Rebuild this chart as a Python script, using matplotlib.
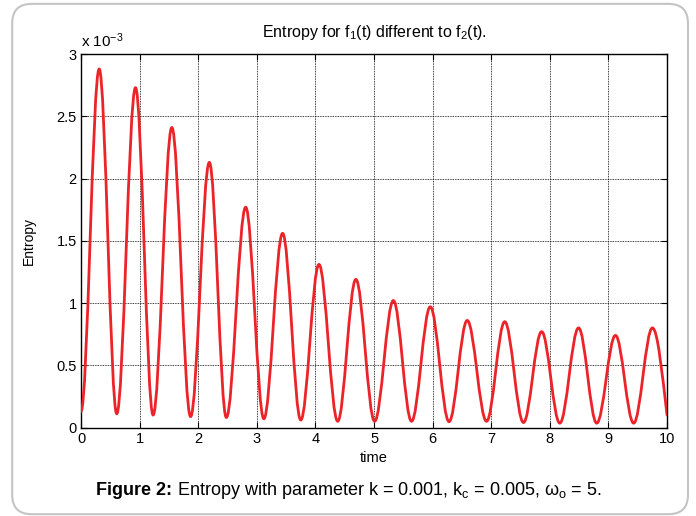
import matplotlib
matplotlib.use("Agg")
import matplotlib.pyplot as plt
from matplotlib.path import Path
from matplotlib.patches import PathPatch, FancyBboxPatch

plt.rcParams.update({
    "font.family": ["Liberation Sans", "DejaVu Sans"],
    "mathtext.fontset": "custom",
    "mathtext.rm": "Liberation Sans",
    "mathtext.it": "Liberation Sans",
    "mathtext.bf": "Liberation Sans:bold",
})

# ── data (entropy in units of 1e-3) ─────────────────────────────────────────
start_t, start_v = 0.0, 0.13
end_t, end_v = 10.0, 0.10
peak_t = [0.31, 0.93, 1.55, 2.19, 2.81, 3.44, 4.06, 4.69,
          5.33, 5.96, 6.59, 7.23, 7.86, 8.49, 9.12, 9.75]
peak_v = [2.88, 2.73, 2.41, 2.13, 1.77, 1.56, 1.31, 1.19,
          1.02, 0.97, 0.86, 0.85, 0.77, 0.80, 0.74, 0.80]
trough_t = [0.61, 1.23, 1.87, 2.48, 3.12, 3.75, 4.38, 5.01,
            5.64, 6.28, 6.92, 7.55, 8.17, 8.80, 9.43]
trough_v = [0.11, 0.10, 0.087, 0.08, 0.07, 0.06, 0.05, 0.05,
            0.05, 0.047, 0.05, 0.04, 0.035, 0.035, 0.035]

x_ticks = list(range(0, 11))
y_ticks = [0, 0.5, 1, 1.5, 2, 2.5, 3]
y_ticklabels = ["0", "0.5", "1", "1.5", "2", "2.5", "3"]

# extrema in time order: peak, trough, peak, ...
ext_t, ext_v = [], []
for i in range(len(peak_t)):
    ext_t.append(peak_t[i]); ext_v.append(peak_v[i])
    if i < len(trough_t):
        ext_t.append(trough_t[i]); ext_v.append(trough_v[i])


def wave_path(t0, v0, ts, vs, t1, v1):
    """Smooth Bezier through extrema (horizontal tangents there)."""
    k = 0.36
    verts = [(t0, v0)]
    codes = [Path.MOVETO]
    pts_t = ts + [t1]
    pts_v = vs + [v1]
    prev_t, prev_v = t0, v0
    for j, (tb, vb) in enumerate(zip(pts_t, pts_v)):
        dt = tb - prev_t
        c1 = (prev_t + k * dt, prev_v)
        if j == len(pts_t) - 1:
            # end is mid-descent: tangent along the fall
            slope = (vb - prev_v) / dt * 1.4
            c2 = (tb - dt / 3, vb - slope * dt / 3)
        else:
            c2 = (tb - k * dt, vb)
        verts += [c1, c2, (tb, vb)]
        codes += [Path.CURVE4] * 3
        prev_t, prev_v = tb, vb
    return Path(verts, codes)


fig = plt.figure(figsize=(6.96, 5.16), dpi=100)

# rounded frame round the whole figure
frame = FancyBboxPatch((0.0175, 0.0035), 0.971, 0.989,
                       boxstyle="round,pad=0,rounding_size=0.028",
                       mutation_aspect=696 / 516,
                       transform=fig.transFigure, facecolor="white",
                       edgecolor="#c4c4c4", linewidth=1.5, zorder=0)
fig.patches.append(frame)

ax = fig.add_axes([0.1164, 0.1715, 0.8420, 0.7238])
ax.set_zorder(1)

line = PathPatch(wave_path(start_t, start_v, ext_t, ext_v, end_t, end_v),
                 facecolor="none", edgecolor="#ec2329", linewidth=2.0,
                 zorder=3, capstyle="round", joinstyle="round")
ax.add_patch(line)

ax.set_xlim(0, 10)
ax.set_ylim(0, 3)
ax.set_xticks(x_ticks)
ax.set_yticks(y_ticks)
ax.set_yticklabels(y_ticklabels)
ax.tick_params(direction="in", length=4, width=0.8, top=True, right=True,
               labelsize=10.5, colors="black", pad=3)
ax.grid(True, color="black", linestyle=(0, (1, 1)), linewidth=0.6)
for s in ax.spines.values():
    s.set_linewidth(1.0)
    s.set_color("black")

ax.set_xlabel("time", fontsize=10.5, labelpad=4)
ax.set_ylabel("Entropy", fontsize=10, labelpad=15)
ax.set_title(r"Entropy for f$_1$(t) different to f$_2$(t).",
             fontsize=11.5, pad=12)
ax.text(0.0, 1.012, r"x 10$^{-3}$", transform=ax.transAxes,
        fontsize=11, ha="left", va="bottom")

# caption: bold label followed by plain text, centred as one line
cap_y = 0.050
cap_bold = fig.text(0, cap_y, "Figure 2:", fontsize=13, weight="bold",
                    ha="left", va="center")
cap_rest = fig.text(0, cap_y,
                    r" Entropy with parameter k = 0.001, k$_c$ = 0.005, "
                    r"$\omega_o$ = 5.",
                    fontsize=13, ha="left", va="center")
renderer = fig.canvas.get_renderer()
w_bold = cap_bold.get_window_extent(renderer).width
w_rest = cap_rest.get_window_extent(renderer).width
x_start = 348.5 - (w_bold + w_rest) / 2
cap_bold.set_x(x_start / 696)
cap_rest.set_x((x_start + w_bold) / 696)

fig.savefig("out.png", dpi=100)
